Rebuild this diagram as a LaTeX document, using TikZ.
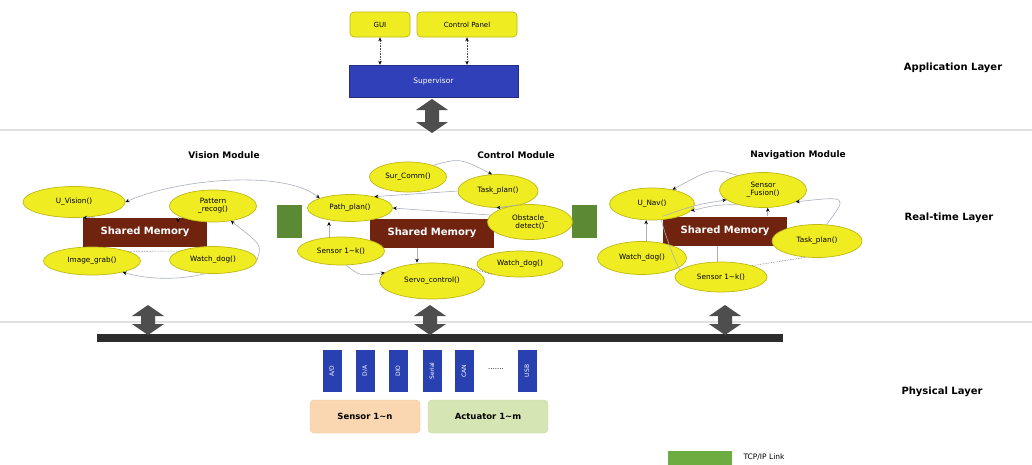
\documentclass[tikz,border=0pt]{standalone}
\usepackage{fontspec}
\setmainfont{DejaVu Sans}
\usetikzlibrary{shapes.geometric,arrows.meta}
\definecolor{yel}{RGB}{240,236,34}
\definecolor{yelb}{RGB}{190,184,20}
\definecolor{shm}{RGB}{112,36,16}
\definecolor{supb}{RGB}{48,64,184}
\definecolor{tcpg}{RGB}{92,138,52}
\definecolor{tcpl}{RGB}{108,172,64}
\definecolor{ifb}{RGB}{40,64,176}
\definecolor{sens}{RGB}{250,215,176}
\definecolor{sensb}{RGB}{238,196,150}
\definecolor{act}{RGB}{214,229,180}
\definecolor{actb}{RGB}{196,216,160}
\definecolor{agray}{RGB}{78,78,78}
\definecolor{lgray}{RGB}{170,176,188}
\definecolor{sepg}{RGB}{225,225,225}
\definecolor{busc}{RGB}{45,45,45}
\newcommand{\fatarrowat}[2]{%
  \begin{scope}[shift={(#1)}]
    \fill[agray] (0,-#2) -- (16,-#2+11) -- (7,-#2+11) -- (7,#2-11) -- (16,#2-11) -- (0,#2) -- (-16,#2-11) -- (-7,#2-11) -- (-7,-#2+11) -- (-16,-#2+11) -- cycle;
  \end{scope}}
\begin{document}
\begin{tikzpicture}[x=1pt,y=-1pt,
 ell/.style={ellipse, draw=yelb, fill=yel, line width=0.7pt, inner sep=0pt, align=center, font=\fontsize{7.3}{7.8}\selectfont},
 ybox/.style={rectangle, rounded corners=4pt, draw=yelb, fill=yel, line width=0.7pt, font=\fontsize{7}{8}\selectfont, minimum height=25pt, inner sep=0pt},
 shmem/.style={rectangle, fill=shm, text=white, font=\bfseries\fontsize{10}{11}\selectfont, minimum width=124pt, minimum height=29pt, inner sep=0pt},
 tcp/.style={rectangle, fill=tcpg, minimum width=25pt, minimum height=33pt, inner sep=0pt},
 ifbox/.style={rectangle, fill=ifb, text=white, rotate=90, minimum width=42pt, minimum height=19pt, inner sep=0pt, font=\fontsize{6}{6}\selectfont},
 layer/.style={font=\bfseries\fontsize{10}{12}\selectfont},
 modt/.style={font=\bfseries\fontsize{9}{11}\selectfont},
 conn/.style={draw=lgray, line width=0.6pt, -{Stealth[length=4pt,width=3.5pt,black]}},
 connl/.style={draw=lgray, line width=0.6pt},
 dlink/.style={draw=black!70, densely dotted, line width=0.6pt, {Stealth[length=4pt,width=3.5pt,black]}-{Stealth[length=4pt,width=3.5pt,black]}},
 dots/.style={draw=black!60, densely dotted, line width=0.6pt}
 ]
\path[use as bounding box, fill=white] (0,0) rectangle (1032,464);

% layer separators
\coordinate (s1L) at (0,130); \coordinate (s1R) at (1032,130);
\coordinate (s2L) at (0,322); \coordinate (s2R) at (1032,322);
\draw[sepg, line width=1.5pt] (s1L) -- (s1R);
\draw[sepg, line width=1.5pt] (s2L) -- (s2R);

% layer labels
\node[layer] (lapp) at (953,68) {Application Layer};
\node[layer] (lrt) at (949,218) {Real-time Layer};
\node[layer] (lphy) at (942,392) {Physical Layer};

% application layer
\node[ybox, minimum width=60pt] (gui) at (380,24.5) {GUI};
\node[ybox, minimum width=100pt] (cp) at (467,24.5) {Control Panel};
\node[rectangle, fill=supb, draw=supb!70!black, text=white, minimum width=169pt, minimum height=32pt, inner sep=0pt, font=\fontsize{7.5}{8}\selectfont] (sup) at (433.5,81) {Supervisor};
\draw[dlink] (gui.south) -- (gui.south |- sup.north);
\draw[dlink] (cp.south) -- (cp.south |- sup.north);
\coordinate (a0) at (432,116);
\fatarrowat{a0}{17}

% module titles
\node[modt] (tv) at (224,155) {Vision Module};
\node[modt] (tc) at (516,155) {Control Module};
\node[modt] (tn) at (798,155) {Navigation Module};

% TCP/IP link blocks
\node[tcp] (g1) at (289.5,221.5) {};
\node[tcp] (g2) at (584,221.5) {};

% ---------- Vision module
\node[shmem] (smv) at (145,232) {Shared Memory};
\node[ell, minimum width=102pt, minimum height=31pt] (uv) at (74,202) {U\_Vision()};
\node[ell, minimum width=87pt, minimum height=32pt] (pr) at (213,206) {Pattern\\\_recog()};
\node[ell, minimum width=97pt, minimum height=28pt] (ig) at (92,261) {Image\_grab()};
\node[ell, minimum width=87pt, minimum height=27pt] (wd1) at (213,260) {Watch\_dog()};

% ---------- Control module
\node[shmem] (smc) at (432,233) {Shared Memory};
\node[ell, minimum width=77pt, minimum height=30pt] (sc) at (408,177) {Sur\_Comm()};
\node[ell, minimum width=80pt, minimum height=33pt] (tp) at (498,191) {Task\_plan()};
\node[ell, minimum width=85pt, minimum height=27pt] (pp) at (350,208) {Path\_plan()};
\node[ell, minimum width=85pt, minimum height=35pt] (od) at (530,222) {Obstacle\_\\detect()};
\node[ell, minimum width=87pt, minimum height=28pt] (s1) at (341,251) {Sensor 1\textasciitilde k()};
\node[ell, minimum width=86pt, minimum height=26pt] (wd2) at (520,264) {Watch\_dog()};
\node[ell, minimum width=105pt, minimum height=36pt] (svc) at (432,281) {Servo\_control()};

% ---------- Navigation module
\node[shmem] (smn) at (725,231) {Shared Memory};
\node[ell, minimum width=85pt, minimum height=32pt] (un) at (652,204) {U\_Nav()};
\node[ell, minimum width=87pt, minimum height=35pt] (sf) at (763,190) {Sensor\\\_Fusion()};
\node[ell, minimum width=90pt, minimum height=33pt] (tpn) at (817,241) {Task\_plan()};
\node[ell, minimum width=89pt, minimum height=33pt] (wdn) at (642,258) {Watch\_dog()};
\node[ell, minimum width=92pt, minimum height=30pt] (sn) at (721,277) {Sensor 1\textasciitilde k()};

% ---------- connectors: vision
\draw[conn, {Stealth[length=4pt,width=3.5pt,black]}-{Stealth[length=4pt,width=3.5pt,black]}] (uv.east) .. controls (180,178) and (285,170) .. (pp.north west);
\draw[conn] (smv.north west) ++(12,0) coordinate (v1) -- (uv.-60);
\draw[conn] ([xshift=33]smv.north) -- ([xshift=33]smv.north |- pr.south);
\draw[conn] (wd1.east) .. controls (262,245) .. (pr.-40);
\draw[conn] (wd1.-120) .. controls (180,280) and (150,280) .. (ig.-20);
\draw[dots] (ig.15) -- (wd1.165);

% ---------- connectors: control
\draw[conn] (sc.25) .. controls (460,158) .. (tp.110);
\draw[conn] (tp.west) -- (pp.25);
\draw[conn] (od.170) -- (pp.east);
\draw[conn] (od.125) -- (tp.-95);
\draw[conn] ([xshift=-12]s1.north) -- ([xshift=-12]s1.north |- pp.south);
\draw[conn] (s1.-70) .. controls (360,276) .. (svc.170);
\draw[conn] ([xshift=-15]smc.south) -- ([xshift=-15]smc.south |- svc.north);
\draw[dots] (svc.25) -- (wd2.200);

% ---------- connectors: navigation
\draw[conn] (sf.150) .. controls (712,168) .. (un.35);
\draw[conn] (smn.north west) .. controls (695,205) .. (sf.195);
\draw[conn] (sf.-150) .. controls (715,205) .. (un.-10);
\draw[conn] (sf.-75 |- smn.north) -- (sf.-75);
\draw[conn] (tpn.60) .. controls (848,196) .. (sf.-20);
\draw[conn] (un.-110 |- wdn.north) -- (un.-110);
\draw[connl] (un.-60) .. controls (668,245) and (680,272) .. (sn.170);
\draw[connl] ([xshift=-8]smn.south) -- ([xshift=-8]smn.south |- sn.north);
\draw[dots] (sn.20) -- (tpn.-125);

% ---------- physical layer
\coordinate (busL) at (97,338);
\coordinate (busR) at (783,338);
\draw[busc, line width=8pt] (busL) -- (busR);
\coordinate (a1) at (148,320);
\coordinate (a2) at (430,320);
\coordinate (a3) at (725,320);
\fatarrowat{a1}{15}
\fatarrowat{a2}{15}
\fatarrowat{a3}{15}

\node[ifbox] (if1) at (332,371) {A/D};
\node[ifbox] (if2) at (365,371) {D/A};
\node[ifbox] (if3) at (398,371) {DIO};
\node[ifbox] (if4) at (432,371) {Serial};
\node[ifbox] (if5) at (464,371) {CAN};
\node[ifbox] (if6) at (527,371) {USB};
\node[font=\fontsize{7}{7}\selectfont] (ifd) at (496,369) {.......};

\node[rectangle, rounded corners=4pt, fill=sens, draw=sensb, minimum width=110pt, minimum height=33pt, inner sep=0pt, font=\bfseries\fontsize{8.5}{10}\selectfont] (sens) at (365,416.5) {Sensor 1\textasciitilde n};
\node[rectangle, rounded corners=4pt, fill=act, draw=actb, minimum width=120pt, minimum height=33pt, inner sep=0pt, font=\bfseries\fontsize{8.5}{10}\selectfont] (act) at (488,416.5) {Actuator 1\textasciitilde m};

% legend
\node[rectangle, fill=tcpl, minimum width=64pt, minimum height=14pt, inner sep=0pt] (leg) at (700,458) {};
\node[anchor=west, font=\fontsize{7.5}{8}\selectfont] (legt) at (740,457) {TCP/IP Link};
\end{tikzpicture}
\end{document}
